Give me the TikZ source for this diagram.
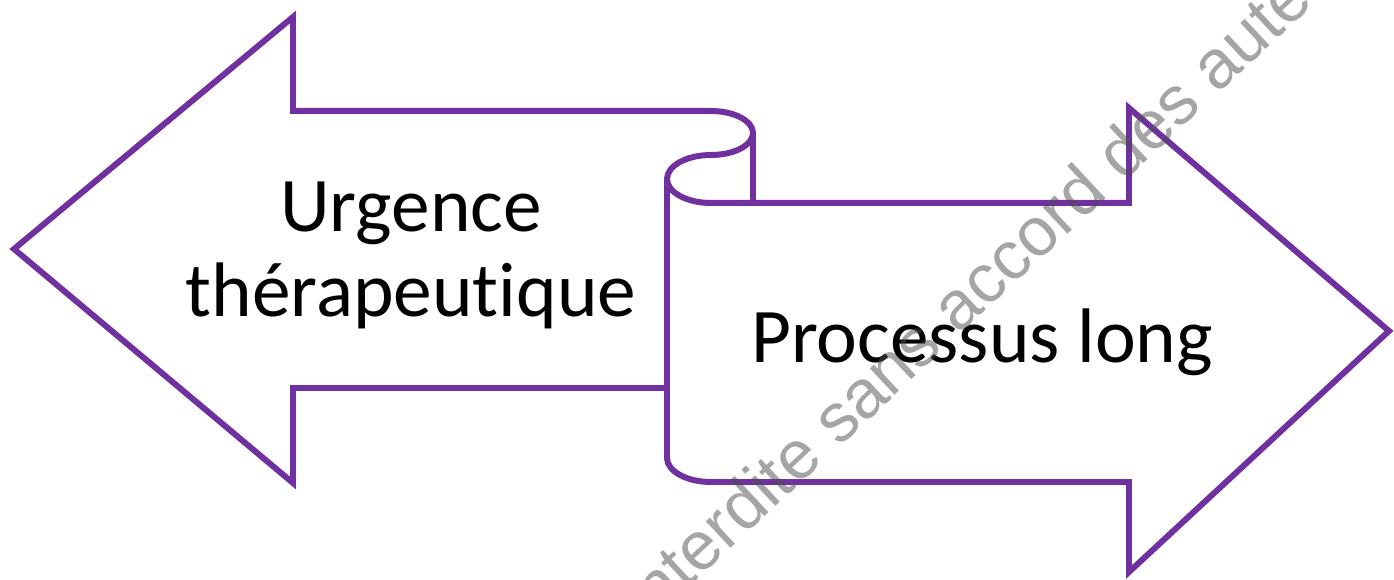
\documentclass[tikz,border=0pt]{standalone}
\usepackage{fontspec}
\setmainfont{Carlito}[Ligatures=NoCommon]
\newfontfamily\wmfont{Liberation Sans}
\usepackage{tikz}
\usetikzlibrary{calc}
\definecolor{violet}{HTML}{7030A0}
\tikzstyle{contour} = [draw=violet, line width=3.4pt, line join=miter]
\tikzstyle{etiquette} = [font=\fontsize{44}{48.4}\selectfont, inner sep=0pt, text=black]
\tikzstyle{filigrane} = [font=\wmfont\fontsize{39}{47}\selectfont, text=black!70, text opacity=0.5, inner sep=0pt]

\begin{document}
\begin{tikzpicture}[x=0.02cm,y=0.02cm]
\useasboundingbox (0,0) rectangle (1394,580);

    \draw[contour] (711,469) -- (293,469) -- (293,563) -- (14,331) -- (293,97) -- (293,192) -- (667,192);

    \draw[contour] (711,469) arc[start angle=90, end angle=-90, x radius=42, y radius=22]
        arc[start angle=90, end angle=270, x radius=44, y radius=24]
        -- (1129,377) -- (1129,472) -- (1389,249) -- (1129,8) -- (1129,98) -- (711,98)
        arc[start angle=270, end angle=180, x radius=44, y radius=24] -- (667,401);
    \draw[contour] (753,447) -- (753,377);

    \node[etiquette, align=center] (urgence) at (411,324.5) {Urgence\\thérapeutique};
    \node[etiquette, anchor=base] (processus) at (982,217) {Processus long};

    \begin{scope}
    \clip (0,0) rectangle (1394,580);
    \node[filigrane, rotate=43] (mention) at (848,165) {Reproduction interdite sans accord des auteurs};
    \end{scope}
\end{tikzpicture}
\end{document}
